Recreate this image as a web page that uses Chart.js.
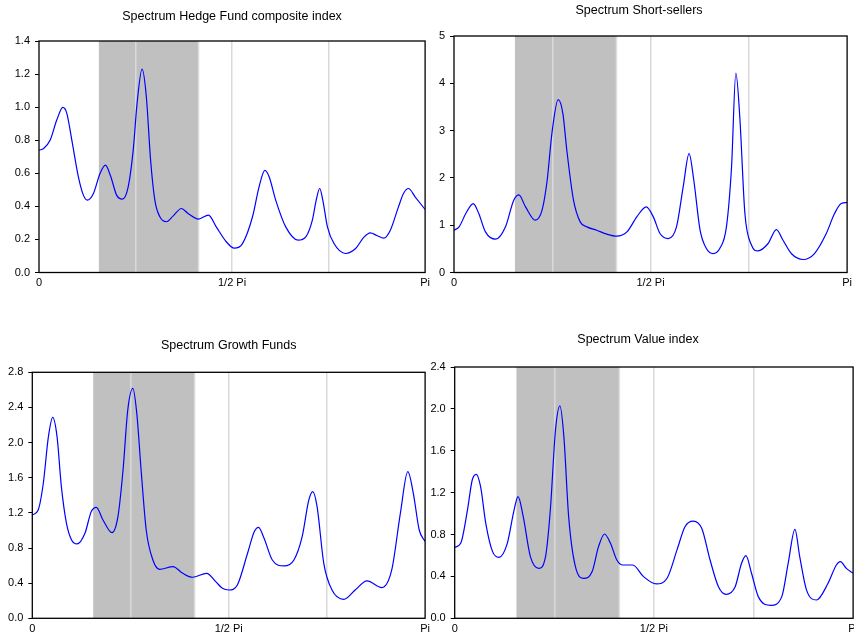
<!DOCTYPE html>
<html>
<head>
<meta charset="utf-8">
<script src="https://cdn.jsdelivr.net/npm/chart.js@4/dist/chart.umd.min.js"></script>
<style>
  html, body { margin: 0; padding: 0; background: #fff; overflow: hidden; }
  body { width: 854px; height: 638px; position: relative; }
  canvas { position: absolute; }
</style>
</head>
<body>
<canvas id="c1"></canvas>
<canvas id="c2"></canvas>
<canvas id="c3"></canvas>
<canvas id="c4"></canvas>
<script>
// frequency as a fraction of pi, spectrum values
const hedgeX = [0, 0.012, 0.029, 0.046, 0.062, 0.072, 0.085, 0.102, 0.115, 0.125, 0.141, 0.158, 0.172, 0.186, 0.201, 0.216, 0.231, 0.244, 0.254, 0.267, 0.278, 0.289, 0.300, 0.313, 0.330, 0.347, 0.369, 0.386, 0.413, 0.439, 0.459, 0.485, 0.506, 0.527, 0.553, 0.570, 0.585, 0.596, 0.613, 0.639, 0.671, 0.691, 0.708, 0.718, 0.727, 0.735, 0.747, 0.764, 0.794, 0.820, 0.841, 0.858, 0.875, 0.893, 0.910, 0.931, 0.944, 0.957, 0.974, 1.0];
const hedgeY = [0.740, 0.750, 0.801, 0.922, 0.998, 0.962, 0.801, 0.579, 0.468, 0.438, 0.478, 0.599, 0.649, 0.579, 0.468, 0.444, 0.518, 0.740, 1.023, 1.230, 1.063, 0.680, 0.438, 0.337, 0.307, 0.341, 0.387, 0.357, 0.323, 0.347, 0.276, 0.186, 0.147, 0.175, 0.337, 0.518, 0.617, 0.579, 0.438, 0.276, 0.196, 0.216, 0.317, 0.438, 0.508, 0.438, 0.276, 0.175, 0.115, 0.145, 0.212, 0.240, 0.224, 0.208, 0.256, 0.397, 0.478, 0.508, 0.458, 0.381];

const shortX = [0, 0.013, 0.030, 0.049, 0.063, 0.080, 0.106, 0.131, 0.152, 0.165, 0.182, 0.207, 0.224, 0.237, 0.249, 0.265, 0.277, 0.287, 0.304, 0.321, 0.338, 0.363, 0.389, 0.414, 0.440, 0.465, 0.489, 0.507, 0.524, 0.545, 0.566, 0.583, 0.598, 0.610, 0.626, 0.642, 0.659, 0.676, 0.693, 0.706, 0.717, 0.727, 0.740, 0.757, 0.773, 0.799, 0.820, 0.837, 0.858, 0.888, 0.917, 0.947, 0.968, 0.985, 1.0];
const shortY = [0.894, 0.965, 1.246, 1.458, 1.246, 0.859, 0.704, 0.965, 1.528, 1.641, 1.387, 1.106, 1.317, 1.951, 2.937, 3.655, 3.359, 2.585, 1.528, 1.070, 0.965, 0.894, 0.810, 0.768, 0.859, 1.176, 1.387, 1.176, 0.824, 0.718, 0.965, 1.810, 2.514, 1.951, 0.894, 0.507, 0.401, 0.507, 0.965, 2.232, 4.218, 3.289, 1.246, 0.577, 0.458, 0.613, 0.908, 0.683, 0.401, 0.275, 0.401, 0.824, 1.246, 1.458, 1.479];

const growthX = [0, 0.015, 0.028, 0.041, 0.052, 0.063, 0.074, 0.087, 0.100, 0.114, 0.134, 0.150, 0.163, 0.180, 0.203, 0.218, 0.231, 0.243, 0.256, 0.266, 0.277, 0.290, 0.307, 0.324, 0.358, 0.383, 0.408, 0.444, 0.467, 0.484, 0.501, 0.522, 0.548, 0.565, 0.576, 0.590, 0.611, 0.641, 0.666, 0.687, 0.704, 0.714, 0.725, 0.742, 0.763, 0.793, 0.822, 0.852, 0.890, 0.915, 0.937, 0.956, 0.970, 0.985, 1.0];
const growthY = [1.176, 1.233, 1.537, 2.068, 2.288, 2.068, 1.499, 1.081, 0.892, 0.846, 0.967, 1.214, 1.263, 1.119, 0.975, 1.157, 1.688, 2.371, 2.618, 2.333, 1.688, 1.005, 0.664, 0.558, 0.588, 0.512, 0.467, 0.512, 0.417, 0.341, 0.322, 0.379, 0.740, 0.986, 1.036, 0.911, 0.664, 0.596, 0.664, 0.930, 1.347, 1.442, 1.271, 0.626, 0.322, 0.216, 0.322, 0.425, 0.349, 0.550, 1.195, 1.669, 1.423, 1.005, 0.873];

const valueX = [0, 0.015, 0.032, 0.044, 0.054, 0.065, 0.078, 0.095, 0.111, 0.132, 0.149, 0.159, 0.172, 0.190, 0.211, 0.228, 0.240, 0.253, 0.264, 0.274, 0.286, 0.303, 0.324, 0.345, 0.361, 0.376, 0.391, 0.407, 0.422, 0.447, 0.474, 0.506, 0.533, 0.558, 0.578, 0.599, 0.620, 0.641, 0.662, 0.681, 0.704, 0.720, 0.731, 0.745, 0.762, 0.794, 0.821, 0.837, 0.854, 0.866, 0.883, 0.908, 0.937, 0.958, 0.968, 0.983, 1.0];
const valueY = [0.678, 0.716, 1.034, 1.321, 1.375, 1.257, 0.907, 0.637, 0.582, 0.716, 1.034, 1.162, 0.971, 0.589, 0.477, 0.589, 1.034, 1.798, 2.028, 1.735, 0.971, 0.493, 0.382, 0.446, 0.684, 0.805, 0.716, 0.557, 0.509, 0.509, 0.398, 0.328, 0.382, 0.653, 0.875, 0.929, 0.859, 0.557, 0.302, 0.229, 0.302, 0.525, 0.598, 0.430, 0.207, 0.124, 0.207, 0.525, 0.850, 0.589, 0.271, 0.175, 0.334, 0.509, 0.541, 0.477, 0.430];

// shaded frequency band (fraction of pi)
const band = [0.155, 0.414];
const xTickPos = [0, 0.5, 1];
const xTickText = ['0', '1/2 Pi', 'Pi'];

const FONT = "'Liberation Sans', Arial, sans-serif";

// left column: title centred on the plot; right column: title shifted left
const panels = [
    { id: 'c1', L: 0, T: 0, W: 434, H: 300, area: [39, 41, 427, 272.5], tcx: null, tcy: 17,
      title: 'Spectrum Hedge Fund composite index', xs: hedgeX, ys: hedgeY, ymax: 1.4, ystep: 0.2, dec: 1 },
    { id: 'c2', L: 424, T: 0, W: 432, H: 300, area: [454, 36, 848, 272.5], tcx: 639, tcy: 10.5,
      title: 'Spectrum Short-sellers', xs: shortX, ys: shortY, ymax: 5, ystep: 1, dec: 0 },
    { id: 'c3', L: 0, T: 326, W: 434, H: 312, area: [32.3, 372.3, 426.7, 618.3], tcx: null, tcy: 345.7,
      title: 'Spectrum Growth Funds', xs: growthX, ys: growthY, ymax: 2.8, ystep: 0.4, dec: 1 },
    { id: 'c4', L: 420, T: 326, W: 442, H: 312, area: [454.7, 367, 855, 618.3], tcx: 638, tcy: 340,
      title: 'Spectrum Value index', xs: valueX, ys: valueY, ymax: 2.4, ystep: 0.4, dec: 1 }
];

const bandPlugin = {
    id: 'band',
    beforeDraw(chart) {
        const x = chart.scales.x, a = chart.chartArea, c = chart.ctx;
        const x0 = x.getPixelForValue(band[0]), x1 = x.getPixelForValue(band[1]);
        c.save();
        c.fillStyle = '#c0c0c0';
        c.fillRect(x0, a.top, x1 - x0, a.bottom - a.top);
        c.fillStyle = '#dedede';
        c.fillRect(x1 - 1, a.top, 1.5, a.bottom - a.top);
        c.restore();
    },
    afterDraw(chart) {
        const a = chart.chartArea, c = chart.ctx;
        c.save();
        c.strokeStyle = '#000';
        c.lineWidth = 1.3;
        c.strokeRect(a.left, a.top, a.right - a.left, a.bottom - a.top);
        c.restore();
    }
};

panels.forEach(function (p) {
    const cv = document.getElementById(p.id);
    cv.width = p.W;
    cv.height = p.H;
    cv.style.left = p.L + 'px';
    cv.style.top = p.T + 'px';

    const padR = p.L + p.W - p.area[2];
    const full = p.tcx !== null;
    const padL = full ? 2 * (p.tcx - p.L) - p.W + padR : 0;
    const yW = p.area[0] - p.L - padL;
    const xH = p.T + p.H - p.area[3];

    new Chart(cv, {
        type: 'line',
        data: {
            datasets: [{
                data: p.xs.map((x, i) => ({ x: x, y: p.ys[i] })),
                borderColor: '#0000ff',
                borderWidth: 1.2,
                pointRadius: 0,
                cubicInterpolationMode: 'monotone',
                fill: false
            }]
        },
        options: {
            responsive: false,
            animation: false,
            events: [],
            layout: { padding: { left: padL, right: padR, top: 0, bottom: 0 } },
            plugins: {
                legend: { display: false },
                tooltip: { enabled: false },
                title: {
                    display: true,
                    fullSize: full,
                    text: p.title,
                    color: '#000',
                    font: { family: FONT, size: 12.5, weight: 'normal', lineHeight: 1.2 },
                    padding: { top: p.tcy - p.T - 7.5, bottom: p.area[1] - p.tcy - 7.5 }
                }
            },
            scales: {
                x: {
                    type: 'linear',
                    min: 0, max: 1,
                    afterFit(s) { s.height = xH; },
                    afterBuildTicks(s) {
                        s.ticks = [0, 0.25, 0.5, 0.75, 1].map(v => ({ value: v }));
                    },
                    border: { display: false },
                    grid: {
                        drawTicks: false,
                        lineWidth: 1.5,
                        color: (ctx) => (ctx.tick && ctx.tick.value > 0 && ctx.tick.value < 1) ? '#d9d9d9' : 'rgba(0,0,0,0)'
                    },
                    ticks: {
                        autoSkip: false,
                        maxRotation: 0,
                        padding: 4,
                        color: '#000',
                        font: { family: FONT, size: 11 },
                        callback: (v) => {
                            const i = xTickPos.indexOf(v);
                            return i >= 0 ? xTickText[i] : '';
                        }
                    }
                },
                y: {
                    min: 0, max: p.ymax,
                    afterFit(s) { s.width = yW; },
                    border: { display: false },
                    grid: { drawOnChartArea: false, drawTicks: true, tickLength: 4, tickColor: '#000', lineWidth: 1 },
                    ticks: {
                        stepSize: p.ystep,
                        padding: 5,
                        color: '#000',
                        font: { family: FONT, size: 11 },
                        callback: (v) => Number(v).toFixed(p.dec)
                    }
                }
            }
        },
        plugins: [bandPlugin]
    });
});
</script>
</body>
</html>
